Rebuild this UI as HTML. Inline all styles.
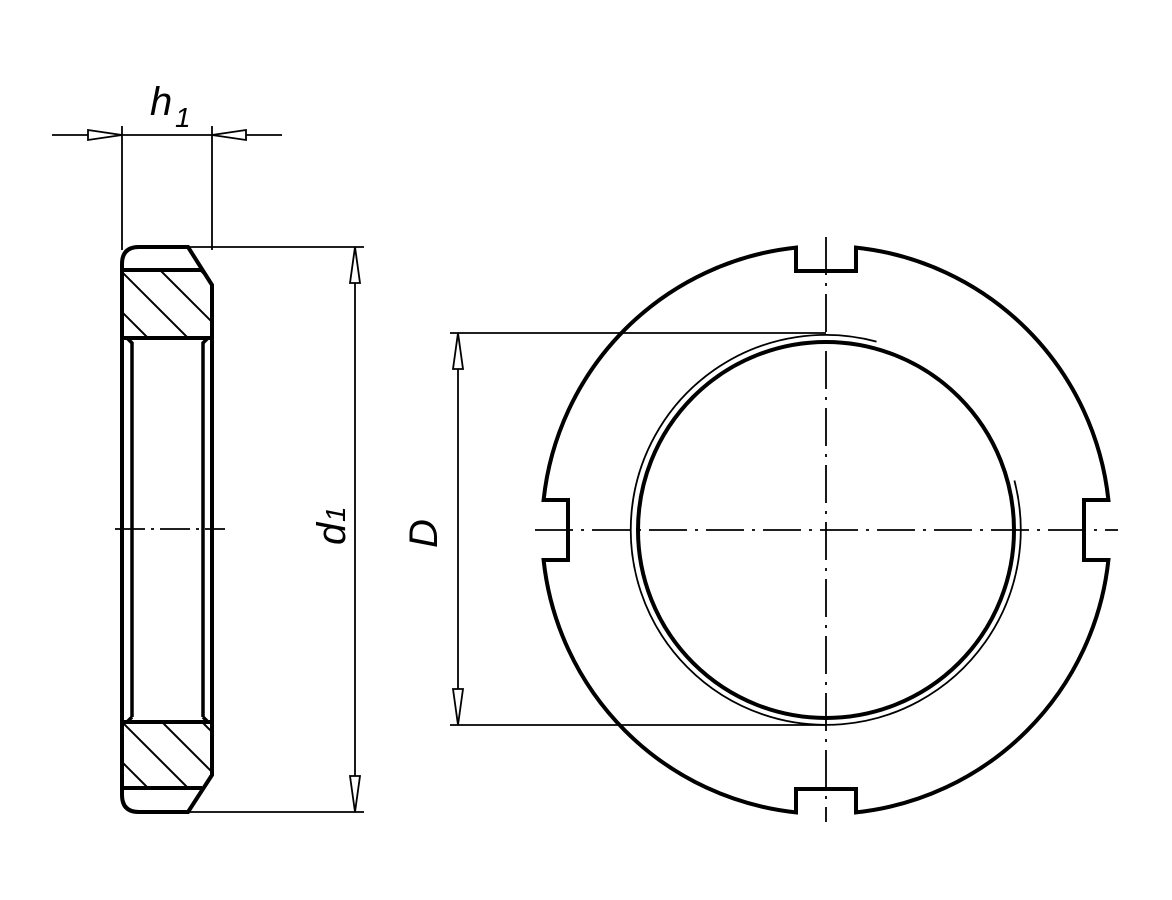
<!DOCTYPE html>
<html><head><meta charset="utf-8"><style>html,body{margin:0;padding:0;background:#fff}svg{display:block}</style></head>
<body>
<svg width="1172" height="900" viewBox="0 0 1172 900" xmlns="http://www.w3.org/2000/svg">
<defs>
<clipPath id="h1"><rect x="123" y="271" width="88" height="66"/></clipPath>
<clipPath id="h2"><rect x="123" y="723" width="88" height="64"/></clipPath>
</defs>
<g fill="none" stroke="#000">
<!-- left view -->
<path d="M122,264 Q122,247 139,247 L188,247 L212,285 L212,775 L188,812 L139,812 Q122,812 122,795 Z" stroke-width="4"/>
<line x1="122" y1="270" x2="202" y2="270" stroke-width="4"/>
<line x1="122" y1="338" x2="212" y2="338" stroke-width="4"/>
<line x1="122" y1="722" x2="212" y2="722" stroke-width="4"/>
<line x1="122" y1="788" x2="202" y2="788" stroke-width="4"/>
<path d="M132,717 L132,343 L127,338 M203,717 L203,343 L208,338 M127,722 L132,717 M208,722 L203,717" stroke-width="3.5"/>
<g clip-path="url(#h1)" stroke-width="2">
<line x1="80" y1="230" x2="200" y2="350"/><line x1="120" y1="230" x2="240" y2="350"/><line x1="160" y1="230" x2="280" y2="350"/><line x1="40" y1="230" x2="160" y2="350"/>
</g>
<g clip-path="url(#h2)" stroke-width="2">
<line x1="80" y1="680" x2="200" y2="800"/><line x1="120" y1="680" x2="240" y2="800"/><line x1="160" y1="680" x2="280" y2="800"/><line x1="40" y1="680" x2="160" y2="800"/>
</g>
<line x1="115" y1="529" x2="225" y2="529" stroke-width="1.8" stroke-dasharray="30,6,3,6"/>
<!-- h1 dim -->
<g stroke-width="1.8">
<line x1="122" y1="126" x2="122" y2="250"/><line x1="212" y1="126" x2="212" y2="250"/>
<line x1="52" y1="135" x2="282" y2="135"/>
<path d="M88,130 L122,135 L88,140 Z M246,130 L212,135 L246,140 Z" fill="#fff"/>
<!-- d1 dim -->
<line x1="190" y1="247" x2="364" y2="247"/><line x1="190" y1="812" x2="364" y2="812"/>
<line x1="355" y1="247" x2="355" y2="812"/>
<path d="M350,283 L355,247 L360,283 Z M350,776 L355,812 L360,776 Z" fill="#fff"/>
<!-- D dim -->
<line x1="450" y1="333" x2="826" y2="333"/><line x1="450" y1="725" x2="826" y2="725"/>
<line x1="458" y1="333" x2="458" y2="725"/>
<path d="M453,369 L458,333 L463,369 Z M453,689 L458,725 L463,689 Z" fill="#fff"/>
</g>
<!-- right view -->
<path d="M796,247.6 L796,271 L856,271 L856,247.6 A284,284 0 0 1 1108.4,500 L1084,500 L1084,560 L1108.4,560 A284,284 0 0 1 856,812.4 L856,789 L796,789 L796,812.4 A284,284 0 0 1 543.6,560 L568,560 L568,500 L543.6,500 A284,284 0 0 1 796,247.6 Z" stroke-width="4"/>
<circle cx="826" cy="530" r="188" stroke-width="4"/>
<path d="M1014.4,480.5 A195,195 0 1 1 876.5,341.6" stroke-width="1.8"/>
<line x1="826" y1="237" x2="826" y2="822" stroke-width="1.8" stroke-dasharray="38,8,3,8"/>
<line x1="535" y1="530" x2="1118" y2="530" stroke-width="1.8" stroke-dasharray="38,8,3,8"/>
</g>
<g font-family="Liberation Sans, sans-serif" font-style="italic" fill="#000">
<text x="150" y="115" font-size="40">h</text>
<text x="175" y="127" font-size="28">1</text>
<text transform="translate(345,545) rotate(-90)" font-size="40">d</text>
<text transform="translate(345,522) rotate(-90)" font-size="28">1</text>
<text transform="translate(437,548) rotate(-90)" font-size="40">D</text>
</g>
</svg>
</body></html>
